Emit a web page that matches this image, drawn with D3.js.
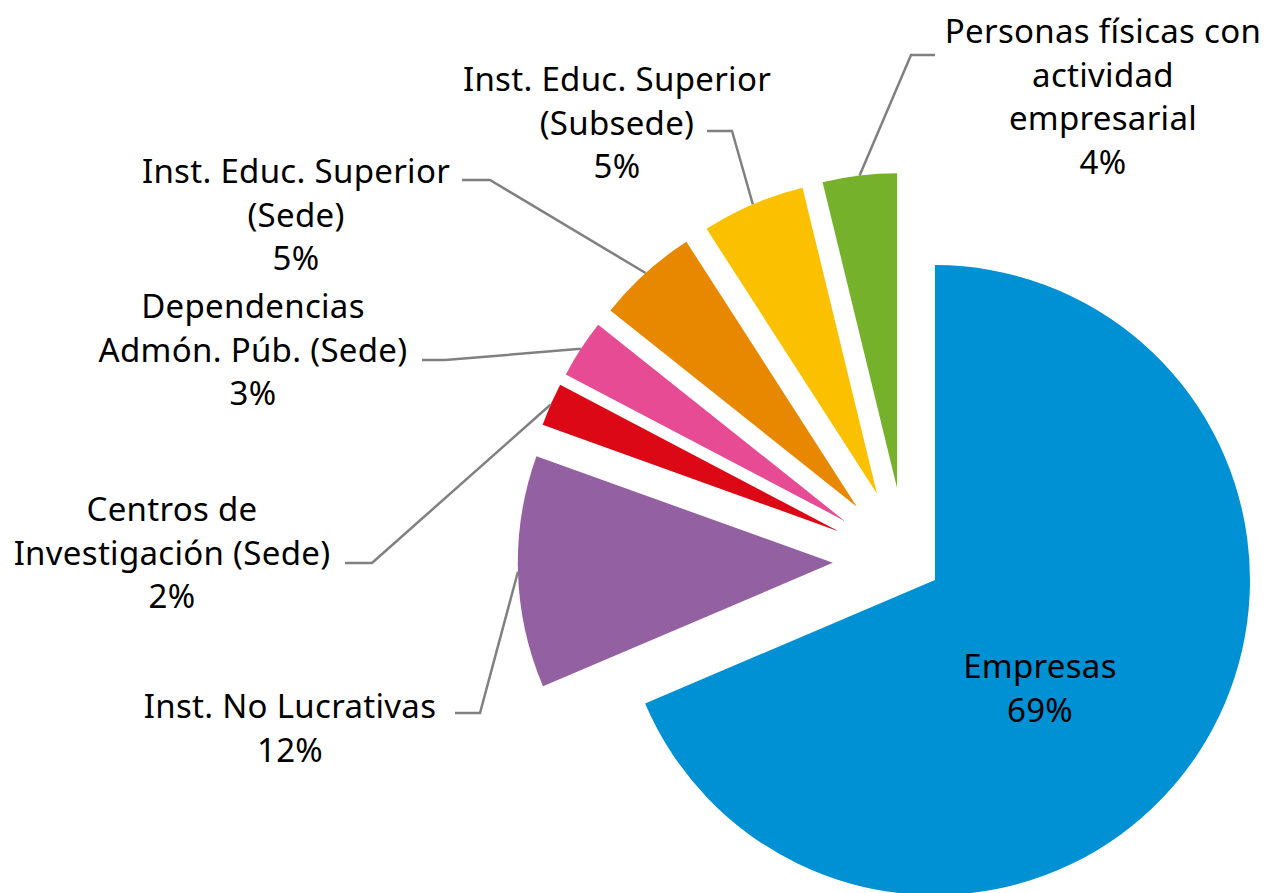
<!DOCTYPE html>
<html>
<head>
<meta charset="utf-8">
<script src="https://cdn.jsdelivr.net/npm/d3@7"></script>
<style>
	body { margin: 0; background: #fff; }
	text { font-family: "Noto Sans", sans-serif; font-size: 33px; letter-spacing: 0.3px; fill: #000; }
</style>
</head>
<body>
<svg id="piechart"></svg>
<script>
// data
const categories = ['Empresas', 'Inst. No Lucrativas', 'Centros de Investigación (Sede)',
	'Dependencias Admón. Púb. (Sede)', 'Inst. Educ. Superior (Sede)',
	'Inst. Educ. Superior (Subsede)', 'Personas físicas con actividad empresarial'];
const shares = [68.6, 11.9, 2.2, 3.0, 5.2, 5.3, 3.8];
const labelLines = [
	['Empresas'],
	['Inst. No Lucrativas'],
	['Centros de', 'Investigación (Sede)'],
	['Dependencias', 'Admón. Púb. (Sede)'],
	['Inst. Educ. Superior', '(Sede)'],
	['Inst. Educ. Superior', '(Subsede)'],
	['Personas físicas con', 'actividad', 'empresarial']
];
const colors = ['#0091d4', '#9360a1', '#dc0815', '#e64b93', '#e88800', '#fbc100', '#76b12b'];

function makeChart() {
	let w = 1266;
	let h = 893;
	let r = 315;
	let cx = 905.8, cy = 560.8;
	let lineH = 43.5;

	// explode distance per slice
	let explode = [35, 73, 73, 73, 73, 73, 73];

	// label anchor, leader elbow and end
	let layout = [
		{ x: 1040, y: 678 },
		{ x: 290, y: 718, elbow: [480, 713], end: [455, 713] },
		{ x: 172, y: 521, elbow: [372, 563], end: [345, 563] },
		{ x: 253, y: 318, elbow: [445, 360], end: [422, 360] },
		{ x: 296, y: 183, elbow: [490, 180], end: [462, 180] },
		{ x: 617, y: 91, elbow: [732, 131], end: [707, 131] },
		{ x: 1103, y: 43, elbow: [911, 55], end: [935, 55] }
	];

	let chart = d3.select('#piechart')
		.attr('width', w)
		.attr('height', h);

	let pie = d3.pie().sort(null).value(d => d);
	let arcs = pie(shares);
	let arc = d3.arc().innerRadius(0).outerRadius(r);

	let offset = (d, i) => {
		let a = (d.startAngle + d.endAngle) / 2;
		return [cx + explode[i] * Math.sin(a), cy - explode[i] * Math.cos(a)];
	};

	chart.selectAll('path.slice')
		.data(arcs)
		.enter()
		.append('path')
		.classed('slice', true)
		.attr('transform', (d, i) => 'translate(' + offset(d, i) + ')')
		.attr('d', arc)
		.style('fill', (d, i) => colors[i]);

	// leader lines
	chart.selectAll('polyline.leader')
		.data(arcs.filter((d, i) => layout[i].elbow))
		.enter()
		.append('polyline')
		.classed('leader', true)
		.attr('points', d => {
			let i = d.index;
			let o = offset(d, i);
			let a = (d.startAngle + d.endAngle) / 2;
			let p = [o[0] + r * Math.sin(a), o[1] - r * Math.cos(a)];
			return [p, layout[i].elbow, layout[i].end].map(q => q.join(',')).join(' ');
		})
		.style('fill', 'none')
		.style('stroke', '#808080')
		.style('stroke-width', 2.5);

	// labels
	let labels = chart.selectAll('text.label')
		.data(arcs)
		.enter()
		.append('text')
		.classed('label', true)
		.attr('x', (d, i) => layout[i].x)
		.attr('y', (d, i) => layout[i].y)
		.style('text-anchor', 'middle');

	labels.each(function (d, i) {
		let t = d3.select(this);
		let lines = labelLines[i].concat([Math.round(d.value) + '%']);
		lines.forEach((s, k) => {
			t.append('tspan')
				.attr('x', layout[i].x)
				.attr('dy', k === 0 ? 0 : lineH)
				.text(s);
		});
	});
}

window.onload = function () {
	makeChart();
}
</script>
</body>
</html>
